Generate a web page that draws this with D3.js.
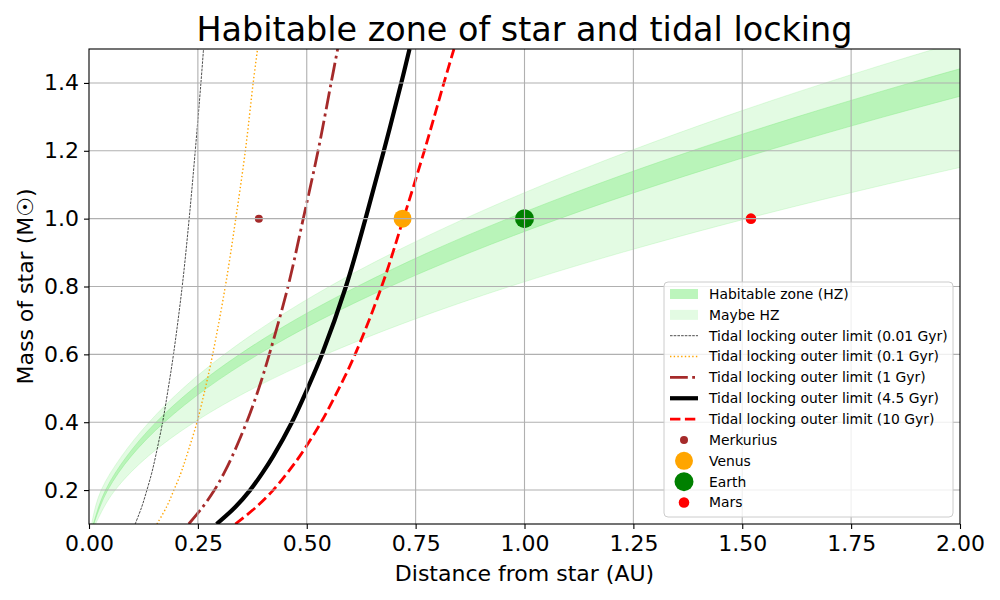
<!DOCTYPE html>
<html>
<head>
<meta charset="utf-8">
<script src="https://cdn.jsdelivr.net/npm/d3@7"></script>
<style>
  body { margin: 0; background: #fff; }
  svg text { font-family: "DejaVu Sans", sans-serif; fill: #000; }
</style>
</head>
<body>
<svg id="chart" width="1000" height="600"></svg>
<script>
const hzMass = [0.1, 0.2, 0.3, 0.4, 0.5, 0.6, 0.7, 0.8, 0.9, 1.0, 1.1, 1.2, 1.3, 1.4, 1.5, 1.6];
const hzInner = [0.010, 0.038, 0.087, 0.154, 0.240, 0.346, 0.471, 0.616, 0.779, 0.962, 1.164, 1.385, 1.626, 1.886, 2.165, 2.46];
const hzOuter = [0.011, 0.043, 0.097, 0.173, 0.270, 0.389, 0.529, 0.691, 0.875, 1.080, 1.307, 1.555, 1.825, 2.117, 2.43, 2.76];
const maybeInner = [0.006, 0.028, 0.075, 0.138, 0.216, 0.311, 0.423, 0.552, 0.699, 0.863, 1.044, 1.243, 1.458, 1.691, 1.942, 2.209];
const maybeOuter = [0.015, 0.060, 0.136, 0.242, 0.378, 0.544, 0.740, 0.966, 1.223, 1.510, 1.827, 2.174, 2.55, 2.96, 3.40, 3.87];

// tidal locking outer limit (AU) per mass
const lockMass = [0.1, 0.15, 0.2, 0.25, 0.3, 0.4, 0.5, 0.6, 0.8, 1.0, 1.2, 1.4, 1.5];
const lock001 = [0.106, 0.121, 0.133, 0.144, 0.153, 0.169, 0.182, 0.194, 0.214, 0.230, 0.244, 0.257, 0.263];
const lock01 = [0.156, 0.178, 0.195, 0.211, 0.224, 0.248, 0.267, 0.284, 0.313, 0.337, 0.359, 0.377, 0.387];
const lock1 = [0.229, 0.261, 0.288, 0.310, 0.329, 0.362, 0.390, 0.414, 0.457, 0.492, 0.526, 0.556, 0.571];
const lock45 = [0.293, 0.336, 0.370, 0.398, 0.423, 0.466, 0.502, 0.535, 0.590, 0.635, 0.677, 0.717, 0.736];
const lock10 = [0.336, 0.384, 0.423, 0.455, 0.484, 0.533, 0.574, 0.611, 0.672, 0.722, 0.770, 0.815, 0.838];

const planetNames = ["Merkurius", "Venus", "Earth", "Mars"];
const planetDist = [0.39, 0.72, 1.0, 1.52];
const planetMass = [1.0, 1.0, 1.0, 1.0];

const xTicks = [0, 0.25, 0.5, 0.75, 1.0, 1.25, 1.5, 1.75, 2.0];
const yTicks = [0.2, 0.4, 0.6, 0.8, 1.0, 1.2, 1.4];

const margin = {left: 89, right: 40, top: 49, bottom: 76};
const W = 1000, H = 600;
const width = W - margin.left - margin.right;
const height = H - margin.top - margin.bottom;

const x = d3.scaleLinear().domain([0, 2]).range([0, width]);
const y = d3.scaleLinear().domain([0.1, 1.5]).range([height, 0]);

const svg = d3.select("#chart");

svg.append("defs").append("clipPath")
    .attr("id", "clip")
  .append("rect")
    .attr("width", width)
    .attr("height", height);

const g = svg.append("g")
    .attr("transform", `translate(${margin.left},${margin.top})`);

const plot = g.append("g").attr("clip-path", "url(#clip)");

// bands
const band = (inner, outer) => d3.area()
    .curve(d3.curveMonotoneY)
    .y((d, i) => y(hzMass[i]))
    .x0((d, i) => x(inner[i]))
    .x1((d, i) => x(outer[i]))(hzMass);

plot.append("path")
    .attr("d", band(maybeInner, maybeOuter))
    .attr("fill", "#90ee90")
    .attr("fill-opacity", 0.25)
    .attr("stroke", "#90ee90")
    .attr("stroke-opacity", 0.25);

plot.append("path")
    .attr("d", band(hzInner, hzOuter))
    .attr("fill", "#90ee90")
    .attr("fill-opacity", 0.5)
    .attr("stroke", "#90ee90")
    .attr("stroke-opacity", 0.5);

// grid
g.append("g")
  .selectAll("line")
  .data(xTicks.slice(1, -1))
  .join("line")
    .attr("x1", d => x(d)).attr("x2", d => x(d))
    .attr("y1", 0).attr("y2", height)
    .attr("stroke", "#b0b0b0").attr("stroke-width", 1.1);
g.append("g")
  .selectAll("line")
  .data(yTicks)
  .join("line")
    .attr("y1", d => y(d)).attr("y2", d => y(d))
    .attr("x1", 0).attr("x2", width)
    .attr("stroke", "#b0b0b0").attr("stroke-width", 1.1);

// tidal locking curves
const lockLines = [
  {label: "Tidal locking outer limit (0.01 Gyr)", vals: lock001, color: "black", w: 0.7, dash: "2.6,1.1"},
  {label: "Tidal locking outer limit (0.1 Gyr)", vals: lock01, color: "orange", w: 1.4, dash: "1.4,2.3"},
  {label: "Tidal locking outer limit (1 Gyr)", vals: lock1, color: "brown", w: 2.8, dash: "17.8,4.4,2.8,4.4"},
  {label: "Tidal locking outer limit (4.5 Gyr)", vals: lock45, color: "black", w: 4.2, dash: null},
  {label: "Tidal locking outer limit (10 Gyr)", vals: lock10, color: "red", w: 2.8, dash: "10.4,4.5"}
];

const line = d3.line()
    .curve(d3.curveCatmullRom)
    .x(d => x(d[0]))
    .y(d => y(d[1]));

lockLines.forEach(l => {
  plot.append("path")
      .attr("d", line(l.vals.map((v, i) => [v, lockMass[i]])))
      .attr("fill", "none")
      .attr("stroke", l.color)
      .attr("stroke-width", l.w)
      .attr("stroke-dasharray", l.dash);
});

// planets
const planetColor = ["brown", "orange", "green", "red"];
const planetR = [4, 9, 9.5, 5.3];
plot.selectAll("circle.planet")
  .data(planetNames)
  .join("circle")
    .attr("class", "planet")
    .attr("cx", (d, i) => x(planetDist[i]))
    .attr("cy", (d, i) => y(planetMass[i]))
    .attr("r", (d, i) => planetR[i])
    .attr("fill", (d, i) => planetColor[i]);

// axes
const xAxis = d3.axisBottom(x).tickValues(xTicks).tickFormat(d3.format(".2f")).tickSize(5).tickPadding(5);
const yAxis = d3.axisLeft(y).tickValues(yTicks).tickFormat(d3.format(".1f")).tickSize(5).tickPadding(5);

const gx = g.append("g").attr("transform", `translate(0,${height})`).call(xAxis);
const gy = g.append("g").call(yAxis);
[gx, gy].forEach(a => {
  a.select(".domain").remove();
  a.selectAll(".tick line").attr("stroke", "#000").attr("stroke-width", 1.1);
  a.selectAll("text").style("font-size", "22px").attr("fill", "#000");
});
gx.selectAll("text").attr("dy", "0.76em");

g.append("rect")
    .attr("width", width).attr("height", height)
    .attr("fill", "none").attr("stroke", "#000").attr("stroke-width", 1.1);

// labels
svg.append("text")
    .attr("x", margin.left + width / 2).attr("y", 41)
    .attr("text-anchor", "middle")
    .style("font-size", "33.4px")
    .text("Habitable zone of star and tidal locking");

svg.append("text")
    .attr("x", margin.left + width / 2).attr("y", 581)
    .attr("text-anchor", "middle")
    .style("font-size", "22px")
    .text("Distance from star (AU)");

svg.append("text")
    .attr("transform", `translate(33,${margin.top + height / 2}) rotate(-90)`)
    .attr("text-anchor", "middle")
    .style("font-size", "22px")
    .text("Mass of star (M☉)");

// legend
const leg = svg.append("g").attr("transform", "translate(664,282)");
leg.append("rect")
    .attr("width", 289).attr("height", 235).attr("rx", 4)
    .attr("fill", "#fff").attr("fill-opacity", 0.8)
    .attr("stroke", "#cccccc").attr("stroke-width", 1);

const rowY = i => 12 + i * 20.85;
const legText = (i, t) => leg.append("text")
    .attr("x", 45).attr("y", rowY(i)).attr("dy", "0.35em")
    .style("font-size", "13.9px").text(t);

leg.append("rect").attr("x", 6).attr("y", rowY(0) - 5).attr("width", 28).attr("height", 10)
    .attr("fill", "#90ee90").attr("fill-opacity", 0.6);
legText(0, "Habitable zone (HZ)");
leg.append("rect").attr("x", 6).attr("y", rowY(1) - 5).attr("width", 28).attr("height", 10)
    .attr("fill", "#90ee90").attr("fill-opacity", 0.25);
legText(1, "Maybe HZ");

lockLines.forEach((l, k) => {
  const i = k + 2;
  leg.append("line")
      .attr("x1", 6).attr("x2", 34).attr("y1", rowY(i)).attr("y2", rowY(i))
      .attr("stroke", l.color).attr("stroke-width", l.w)
      .attr("stroke-dasharray", l.dash);
  legText(i, l.label);
});

planetNames.forEach((p, k) => {
  const i = k + 7;
  leg.append("circle")
      .attr("cx", 20).attr("cy", rowY(i)).attr("r", planetR[k])
      .attr("fill", planetColor[k]);
  legText(i, p);
});
</script>
</body>
</html>
